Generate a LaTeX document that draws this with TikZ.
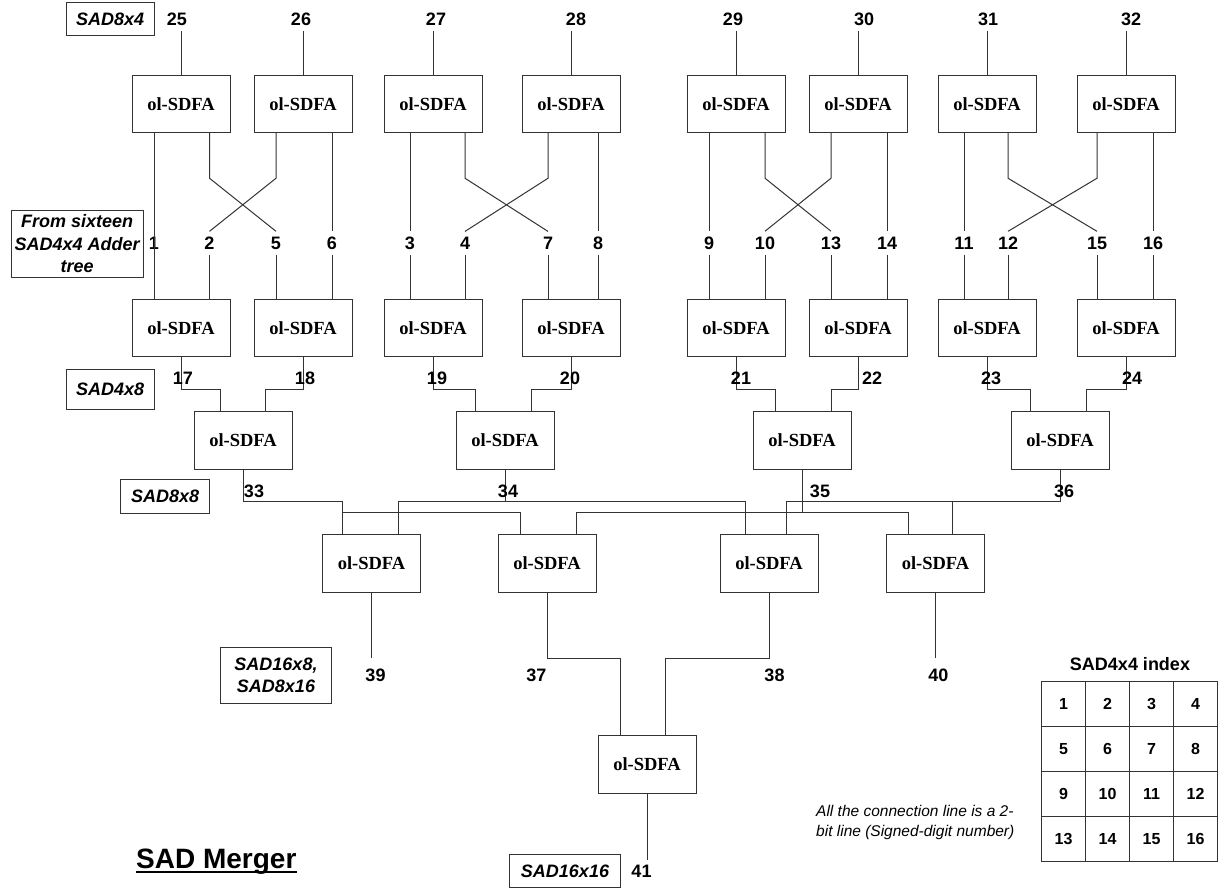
\documentclass[tikz,border=0pt]{standalone}
\usepackage{fontspec}
\setmainfont{Liberation Serif}
\newfontfamily\arial{Liberation Sans}
\definecolor{linegray}{gray}{0.2}
\tikzset{
  wire/.style={draw=linegray, line width=1pt},
  sdfa/.style={draw=linegray, line width=1pt, minimum width=98pt, minimum height=57.5pt,
    inner sep=0pt, font=\bfseries\fontsize{18.5}{20}\selectfont},
  num/.style={inner sep=5.2pt, font=\arial\bfseries\fontsize{18}{20}\selectfont},
  tagbox/.style={draw=linegray, line width=1pt, inner sep=0pt, align=center,
    font=\arial\bfseries\itshape\fontsize{18}{22.3}\selectfont},
  cell/.style={draw=linegray, line width=1pt, minimum width=44pt, minimum height=45pt,
    inner sep=0pt, font=\arial\bfseries\fontsize{16}{18}\selectfont},
}
\begin{document}
\begin{tikzpicture}[x=1pt,y=-1pt]
\fill[white] (0,0) rectangle (1218,888);
\useasboundingbox (0,0) rectangle (1218,888);

% ---------- first adder row ----------
\node[sdfa] (t1) at (181,104) {ol-SDFA};
\node[sdfa] (t2) at (303,104) {ol-SDFA};
\node[sdfa] (t3) at (433,104) {ol-SDFA};
\node[sdfa] (t4) at (571,104) {ol-SDFA};
\node[sdfa] (t5) at (736,104) {ol-SDFA};
\node[sdfa] (t6) at (858,104) {ol-SDFA};
\node[sdfa] (t7) at (987,104) {ol-SDFA};
\node[sdfa] (t8) at (1126,104) {ol-SDFA};

\node[num] (n25) at (177,19) {25};
\node[num] (n26) at (301,19) {26};
\node[num] (n27) at (436,19) {27};
\node[num] (n28) at (576,19) {28};
\node[num] (n29) at (733,19) {29};
\node[num] (n30) at (864,19) {30};
\node[num] (n31) at (988,19) {31};
\node[num] (n32) at (1131,19) {32};

\draw[wire] (t1.north) -- (t1.north |- n25.south);
\draw[wire] (t2.north) -- (t2.north |- n26.south);
\draw[wire] (t3.north) -- (t3.north |- n27.south);
\draw[wire] (t4.north) -- (t4.north |- n28.south);
\draw[wire] (t5.north) -- (t5.north |- n29.south);
\draw[wire] (t6.north) -- (t6.north |- n30.south);
\draw[wire] (t7.north) -- (t7.north |- n31.south);
\draw[wire] (t8.north) -- (t8.north |- n32.south);

% ---------- SAD4x4 inputs ----------
\node[num] (l1)  at (154,243) {1};
\node[num] (l2)  at (209.5,243) {2};
\node[num] (l5)  at (276,243) {5};
\node[num] (l6)  at (332,243) {6};
\node[num] (l3)  at (410,243) {3};
\node[num] (l4)  at (465,243) {4};
\node[num] (l7)  at (548,243) {7};
\node[num] (l8)  at (598,243) {8};
\node[num] (l9)  at (709,243) {9};
\node[num] (l10) at (765,243) {10};
\node[num] (l13) at (831,243) {13};
\node[num] (l14) at (887,243) {14};
\node[num] (l11) at (964,243) {11};
\node[num] (l12) at (1008,243) {12};
\node[num] (l15) at (1097,243) {15};
\node[num] (l16) at (1153,243) {16};

% ---------- second adder row ----------
\node[sdfa] (b1) at (181,328) {ol-SDFA};
\node[sdfa] (b2) at (303,328) {ol-SDFA};
\node[sdfa] (b3) at (433,328) {ol-SDFA};
\node[sdfa] (b4) at (571,328) {ol-SDFA};
\node[sdfa] (b5) at (736,328) {ol-SDFA};
\node[sdfa] (b6) at (858,328) {ol-SDFA};
\node[sdfa] (b7) at (987,328) {ol-SDFA};
\node[sdfa] (b8) at (1126,328) {ol-SDFA};

% pair 1
\draw[wire] (l1.north |- t1.south) -- (l1.south |- b1.north);
\draw[wire] (l2.north |- t1.south) -- ++(0,45) -- (l5.north);
\draw[wire] (l5.north |- t2.south) -- ++(0,45) -- (l2.north);
\draw[wire] (l6.north |- t2.south) -- (l6.north);
\draw[wire] (l2.south) -- (l2.south |- b1.north);
\draw[wire] (l5.south) -- (l5.south |- b2.north);
\draw[wire] (l6.south) -- (l6.south |- b2.north);
% pair 2
\draw[wire] (l3.north |- t3.south) -- (l3.north);
\draw[wire] (l4.north |- t3.south) -- ++(0,45) -- (l7.north);
\draw[wire] (l7.north |- t4.south) -- ++(0,45) -- (l4.north);
\draw[wire] (l8.north |- t4.south) -- (l8.north);
\draw[wire] (l3.south) -- (l3.south |- b3.north);
\draw[wire] (l4.south) -- (l4.south |- b3.north);
\draw[wire] (l7.south) -- (l7.south |- b4.north);
\draw[wire] (l8.south) -- (l8.south |- b4.north);
% pair 3
\draw[wire] (l9.north |- t5.south) -- (l9.north);
\draw[wire] (l10.north |- t5.south) -- ++(0,45) -- (l13.north);
\draw[wire] (l13.north |- t6.south) -- ++(0,45) -- (l10.north);
\draw[wire] (l14.north |- t6.south) -- (l14.north);
\draw[wire] (l9.south) -- (l9.south |- b5.north);
\draw[wire] (l10.south) -- (l10.south |- b5.north);
\draw[wire] (l13.south) -- (l13.south |- b6.north);
\draw[wire] (l14.south) -- (l14.south |- b6.north);
% pair 4
\draw[wire] (l11.north |- t7.south) -- (l11.north);
\draw[wire] (l12.north |- t7.south) -- ++(0,45) -- (l15.north);
\draw[wire] (l15.north |- t8.south) -- ++(0,45) -- (l12.north);
\draw[wire] (l16.north |- t8.south) -- (l16.north);
\draw[wire] (l11.south) -- (l11.south |- b7.north);
\draw[wire] (l12.south) -- (l12.south |- b7.north);
\draw[wire] (l15.south) -- (l15.south |- b8.north);
\draw[wire] (l16.south) -- (l16.south |- b8.north);

% ---------- third adder row ----------
\node[sdfa] (c1) at (243,440.5) {ol-SDFA};
\node[sdfa] (c2) at (505,440.5) {ol-SDFA};
\node[sdfa] (c3) at (802,440.5) {ol-SDFA};
\node[sdfa] (c4) at (1060,440.5) {ol-SDFA};

\draw[wire] (b1.south) -- ++(0,32) -| (c1.north -| 220.6,0);
\draw[wire] (b2.south) -- ++(0,32) -| (c1.north -| 265,0);
\draw[wire] (b3.south) -- ++(0,32) -| (c2.north -| 475.7,0);
\draw[wire] (b4.south) -- ++(0,32) -| (c2.north -| 531.4,0);
\draw[wire] (b5.south) -- ++(0,32) -| (c3.north -| 775.8,0);
\draw[wire] (b6.south) -- ++(0,32) -| (c3.north -| 831.4,0);
\draw[wire] (b7.south) -- ++(0,32) -| (c4.north -| 1030.8,0);
\draw[wire] (b8.south) -- ++(0,32) -| (c4.north -| 1086.8,0);

\node[num] (n17) at (183,378) {17};
\node[num] (n18) at (305,378) {18};
\node[num] (n19) at (437,378) {19};
\node[num] (n20) at (570,378) {20};
\node[num] (n21) at (741,378) {21};
\node[num] (n22) at (872,378) {22};
\node[num] (n23) at (991,378) {23};
\node[num] (n24) at (1132,378) {24};

% ---------- fourth adder row ----------
\node[sdfa] (d1) at (371.5,563.5) {ol-SDFA};
\node[sdfa] (d2) at (547,563.5) {ol-SDFA};
\node[sdfa] (d3) at (769,563.5) {ol-SDFA};
\node[sdfa] (d4) at (935.5,563.5) {ol-SDFA};

\coordinate (bus33) at (c1.south |- 0,501.7);
\coordinate (bus34) at (c2.south |- 0,501.7);
\coordinate (bus35) at (c3.south |- 0,512.7);
\coordinate (bus36) at (c4.south |- 0,501.7);
\coordinate (tap33) at (342.5,512.7);
\coordinate (tap36) at (952.8,501.7);

\draw[wire] (c1.south) -- (bus33) -| (d1.north -| 342.5,0);
\draw[wire] (tap33) -| (d2.north -| 520.5,0);
\draw[wire] (c2.south) -- (bus34);
\draw[wire] (d1.north -| 398.3,0) |- (bus34) -| (d3.north -| 745.7,0);
\draw[wire] (c3.south) -- (bus35);
\draw[wire] (d2.north -| 576,0) |- (bus35) -| (d4.north -| 908.3,0);
\draw[wire] (c4.south) -- (bus36) -| (d3.north -| 786.5,0);
\draw[wire] (tap36) -- (tap36 |- d4.north);

\node[num] (n33) at (254,491) {33};
\node[num] (n34) at (508,491) {34};
\node[num] (n35) at (820,491) {35};
\node[num] (n36) at (1064,491) {36};

% ---------- final adder ----------
\node[sdfa] (f) at (647,764.5) {ol-SDFA};

\coordinate (e39) at (d1.south |- 0,658.3);
\coordinate (e40) at (d4.south |- 0,658.3);
\coordinate (e41) at (f.south |- 0,860);
\draw[wire] (d1.south) -- (e39);
\draw[wire] (d4.south) -- (e40);
\draw[wire] (d2.south) -- ++(0,66) -| (f.north -| 620.5,0);
\draw[wire] (d3.south) -- ++(0,66) -| (f.north -| 665,0);
\draw[wire] (f.south) -- (e41);

\node[num] (n39) at (375.5,675) {39};
\node[num] (n37) at (536.3,675) {37};
\node[num] (n38) at (774.5,675) {38};
\node[num] (n40) at (938.4,675) {40};
\node[num] (n41) at (641.5,871) {41};

% ---------- level tags ----------
\node[tagbox, minimum width=88.3pt, minimum height=33.3pt] (g84) at (110.2,19.3) {SAD8x4};
\node[tagbox, minimum width=132.3pt, minimum height=67.3pt] (gsrc) at (77.2,243.7)
  {From sixteen\\SAD4x4 Adder\\tree};
\node[tagbox, minimum width=88.2pt, minimum height=39.7pt] (g48) at (110.1,389.2) {SAD4x8};
\node[tagbox, minimum width=89pt, minimum height=34pt] (g88) at (165.1,496.3) {SAD8x8};
\node[tagbox, minimum width=111pt, minimum height=56pt,
  font=\arial\bfseries\itshape\fontsize{18}{21.7}\selectfont] (g168) at (276,675.3)
  {SAD16x8,\\SAD8x16};
\node[tagbox, minimum width=111pt, minimum height=33pt] (g1616) at (565,871) {SAD16x16};

% ---------- title ----------
\node[anchor=base west, inner sep=0pt, font=\arial\bfseries\fontsize{28}{32}\selectfont]
  (merger) at (136,868.3) {SAD Merger};
\draw[line width=1.8pt] ([yshift=-3.6pt]merger.base west) -- ([yshift=-3.6pt]merger.base east);

% ---------- note ----------
\node[anchor=west, inner sep=0pt, align=left, font=\arial\itshape\fontsize{15.5}{19.3}\selectfont]
  (note) at (816,822.4) {All the connection line is a 2-\\bit line (Signed-digit number)};

% ---------- SAD4x4 index table ----------
\node[inner sep=0pt, font=\arial\bfseries\fontsize{18}{20}\selectfont] (idx) at (1130,664.3) {SAD4x4 index};
\node[cell] (k1)  at (1063.5,704.2) {1};
\node[cell] (k2)  at (1107.5,704.2) {2};
\node[cell] (k3)  at (1151.5,704.2) {3};
\node[cell] (k4)  at (1195.5,704.2) {4};
\node[cell] (k5)  at (1063.5,749.2) {5};
\node[cell] (k6)  at (1107.5,749.2) {6};
\node[cell] (k7)  at (1151.5,749.2) {7};
\node[cell] (k8)  at (1195.5,749.2) {8};
\node[cell] (k9)  at (1063.5,794.2) {9};
\node[cell] (k10) at (1107.5,794.2) {10};
\node[cell] (k11) at (1151.5,794.2) {11};
\node[cell] (k12) at (1195.5,794.2) {12};
\node[cell] (k13) at (1063.5,838.7) {13};
\node[cell] (k14) at (1107.5,838.7) {14};
\node[cell] (k15) at (1151.5,838.7) {15};
\node[cell] (k16) at (1195.5,838.7) {16};
\end{tikzpicture}
\end{document}
